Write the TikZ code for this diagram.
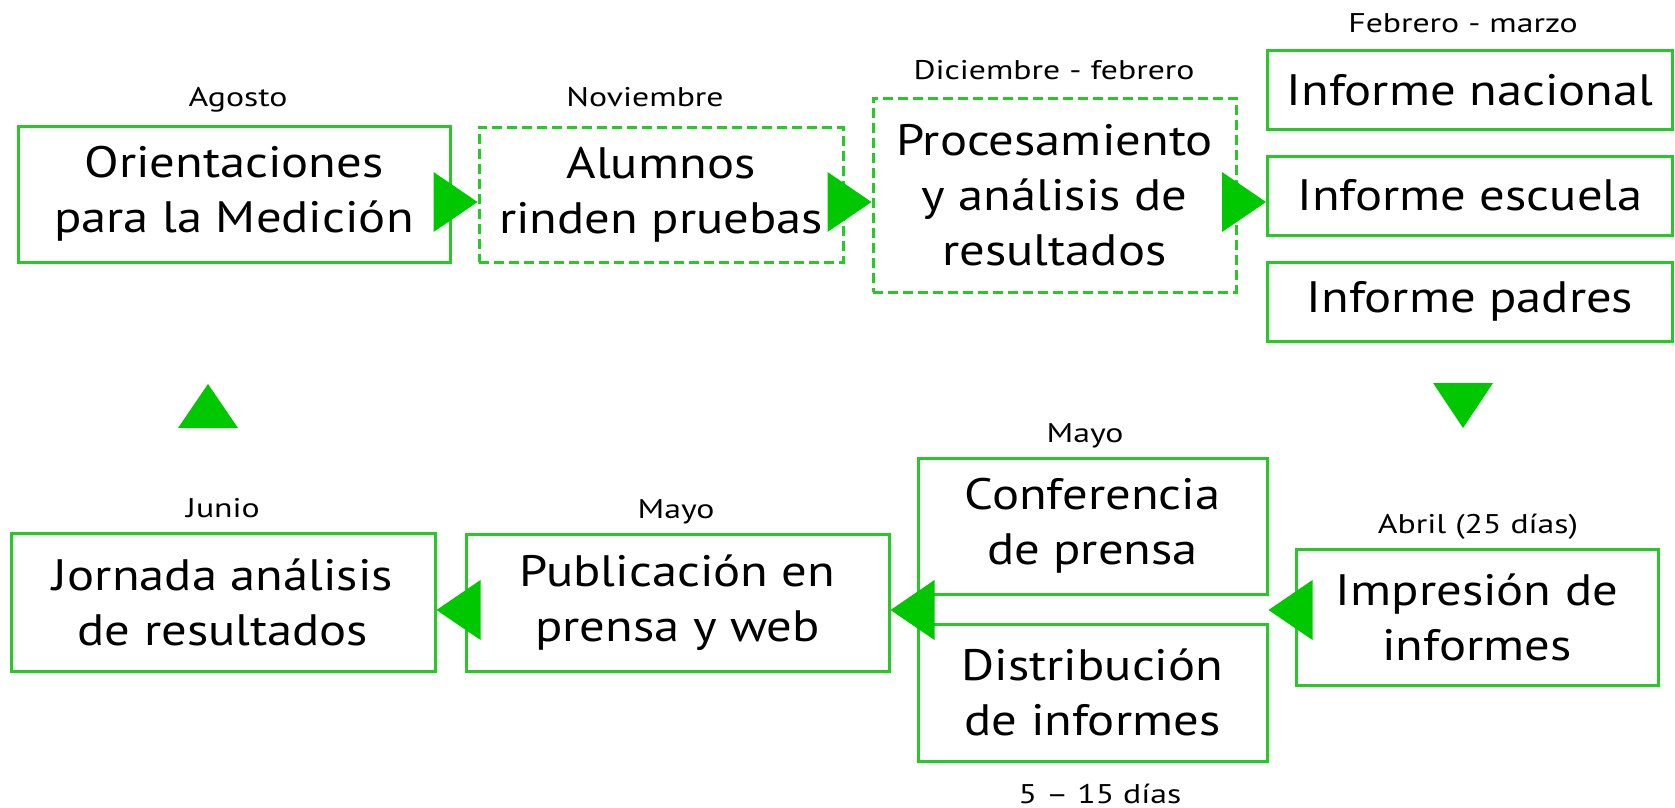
\documentclass[tikz,border=0pt]{standalone}
\usepackage{fontspec}
\setmainfont{PT Sans}
\newfontfamily\letragrande{PT Sans}[FakeStretch=1.15]
\newfontfamily\letrachica{PT Sans}[FakeStretch=1.25]
\definecolor{fase}{RGB}{0,200,0}
\definecolor{borde}{RGB}{40,200,40}

\begin{document}
\begin{tikzpicture}[x=1pt,y=-1pt]
    \tikzstyle{caja}=[draw=borde,line width=3pt,inner sep=0pt,align=center,
                      font=\letragrande\fontsize{44}{55}\selectfont]
    \tikzstyle{provisoria}=[caja,dash pattern=on 10pt off 5pt]
    \tikzstyle{fecha}=[anchor=base,inner sep=0pt,font=\letrachica\fontsize{27}{32}\selectfont]
    \tikzstyle{flecha}=[fill=fase]

    \useasboundingbox (0,0) rectangle (1675,808);

    % Upper row of steps, with the three reports on the right
    \node[caja,minimum width=432pt,minimum height=136pt] (orient) at (234,194)
        {Orientaciones\\para la Medición};
    \node[provisoria,minimum width=364pt,minimum height=135pt] (alumnos) at (661,194.5)
        {Alumnos\\rinden pruebas};
    \node[provisoria,minimum width=363pt,minimum height=194pt] (proces) at (1054.5,195)
        {Procesamiento\\y análisis de\\resultados};
    \node[caja,minimum width=405pt,minimum height=78pt] (nacional) at (1470,90) {Informe nacional};
    \node[caja,minimum width=405pt,minimum height=79pt] (escuela) at (1470,195.5) {Informe escuela};
    \node[caja,minimum width=405pt,minimum height=79pt] (padres) at (1470,301.5) {Informe padres};

    % Lower row, running back to the left
    \node[caja,minimum width=362pt,minimum height=136pt] (impresion) at (1477,617)
        {Impresión de\\informes};
    \node[caja,minimum width=349pt,minimum height=136pt] (conferencia) at (1092.5,526)
        {Conferencia\\de prensa};
    \node[caja,minimum width=349pt,minimum height=137pt] (distrib) at (1092.5,692.5)
        {Distribución\\de informes};
    \node[caja,minimum width=423pt,minimum height=137pt] (publicacion) at (677.5,602.5)
        {Publicación en\\prensa y web};
    \node[caja,minimum width=424pt,minimum height=138pt] (jornada) at (223,602)
        {Jornada análisis\\de resultados};

    % Dates over (and under) the steps
    \node[fecha] (fagosto) at (238,106) {Agosto};
    \node[fecha] (fnoviembre) at (645,106) {Noviembre};
    \node[fecha] (fdiciembre) at (1054,79) {Diciembre - febrero};
    \node[fecha] (ffebrero) at (1463,33) {Febrero - marzo};
    \node[fecha] (fabril) at (1478,533) {Abril (25 días)};
    \node[fecha] (fmayoconf) at (1085,442) {Mayo};
    \node[fecha] (fmayopub) at (676,518) {Mayo};
    \node[fecha] (fjunio) at (223,517) {Junio};
    \node[fecha] (fdias) at (1100,803) {5 – 15 días};

    % Triangles between the steps
    \coordinate (filasup) at (0,202);
    \coordinate (filainf) at (0,610);
    \fill[flecha] (alumnos.west |- filasup) -- ++(-44,-30) -- ++(0,60) -- cycle;
    \fill[flecha] (proces.west |- filasup) -- ++(-44,-30) -- ++(0,60) -- cycle;
    \fill[flecha] (escuela.west |- filasup) -- ++(-44,-30) -- ++(0,60) -- cycle;
    \coordinate (bajada) at (1463,428);
    \fill[flecha] (bajada) -- ++(-30,-45) -- ++(60,0) -- cycle;
    \fill[flecha] (conferencia.east |- filainf) -- ++(44,-30) -- ++(0,60) -- cycle;
    \fill[flecha] (publicacion.east |- filainf) -- ++(44,-30) -- ++(0,60) -- cycle;
    \fill[flecha] (jornada.east |- filainf) -- ++(44,-30) -- ++(0,60) -- cycle;
    \coordinate (subida) at (208,384);
    \fill[flecha] (subida) -- ++(-30,44) -- ++(60,0) -- cycle;

\end{tikzpicture}
\end{document}
